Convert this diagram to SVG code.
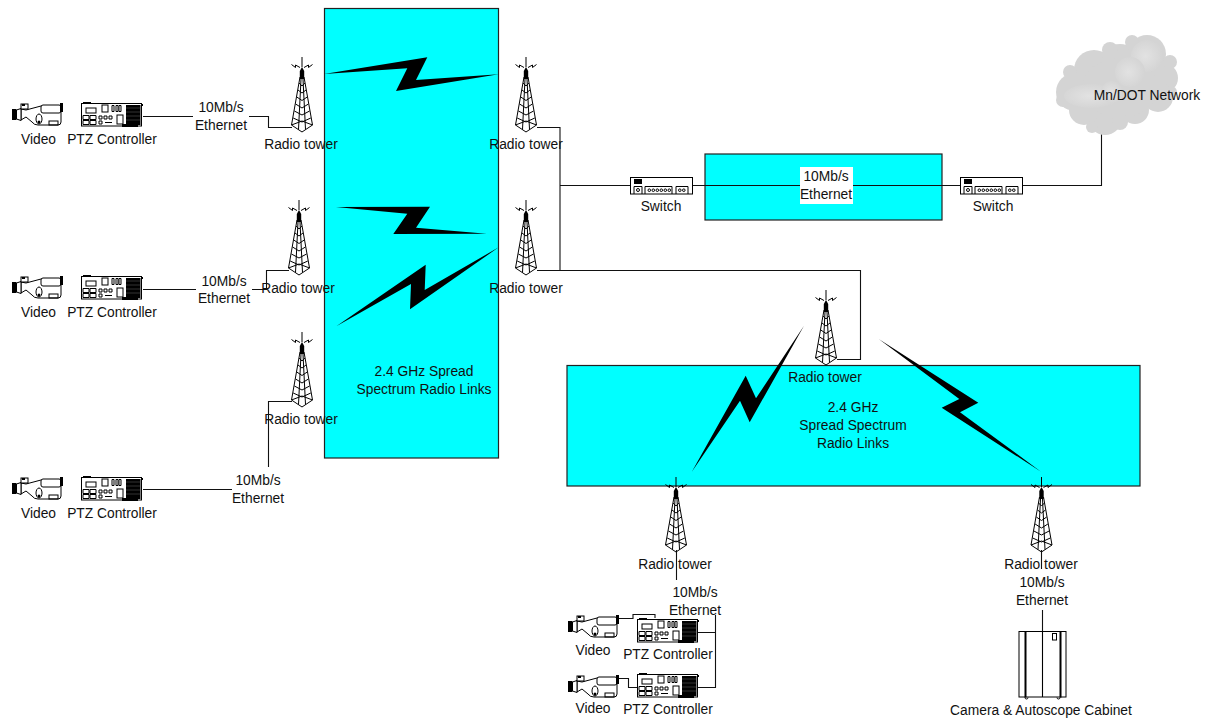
<svg xmlns="http://www.w3.org/2000/svg" xmlns:xlink="http://www.w3.org/1999/xlink" width="1209" height="719" viewBox="0 0 1209 719">
<style>
text{font-family:"Liberation Sans",Arial,sans-serif;font-size:13.8px;fill:#111;text-anchor:middle}
.zone{fill:#00ffff;stroke:#222;stroke-width:1.2}
.ln{fill:none;stroke:#111;stroke-width:1.1}
.bolt{fill:#000}
.d{fill:none;stroke:#000;stroke-width:1}
.dw{fill:#fff;stroke:#000;stroke-width:1}
.k{fill:#000}
</style>
<defs>
<radialGradient id="cg" cx="0.45" cy="0.5" r="0.7"><stop offset="0" stop-color="#e2e2e2"/><stop offset="1" stop-color="#d0d0d0"/></radialGradient>
<g id="tower">
<path class="d" stroke-width="1.300" d="M0,0V10M-10.500,7.500L-6.500,10.500V8L-2,10.500M10.500,7.500L6.500,10.500V8L2,10.500"/>
<path class="k" d="M0,10L2.200,14V22H-2.200V14Z"/>
<path class="d" stroke-width="1.200" stroke-linejoin="round" d="M-2,20L-10.500,68L0,75L10.500,68L2,20M-1,22L-3.500,72.500M1,22L3.500,72.500M-2.900,26L0,29L2.900,26M-4,33L0,36L4,33M-5.200,40L0,43.500L5.200,40M-6.400,47L0,51L6.400,47M-7.600,54L0,58L7.600,54M-8.800,61L0,65L8.800,61M-10.500,68L0,64L10.500,68"/>
</g>
<g id="camera">
<path class="dw" d="M9,6L14,7L29,3H49V19Q49,22 46,22H26Q22,22 20,19L14,14L9,17Z"/>
<rect class="k" x="0" y="6" width="4.500" height="11"/>
<path class="dw" d="M4.500,7L9,5.500V17.500L4.500,16Z"/>
<rect class="dw" x="29" y="2" width="20" height="8" rx="2"/>
<rect class="k" x="48" y="0" width="3" height="9"/>
<rect class="dw" x="9" y="1" width="7" height="5"/>
<path class="k" d="M10,1h3v2h-3z"/>
<ellipse class="d" cx="27" cy="16" rx="3" ry="5"/>
<circle class="k" cx="27" cy="19" r="1.500"/>
<rect class="d" x="37" y="18" width="9" height="4"/>
</g>
<g id="ptz">
<rect class="dw" x="0.500" y="1.500" width="60" height="22.500"/>
<rect class="k" x="2" y="0" width="8" height="2"/>
<rect class="d" x="5" y="6" width="10" height="5"/>
<rect class="d" x="21" y="3" width="6" height="7"/>
<path class="d" d="M31,3.500v6h2v-6zM35,3.500v6h2v-6zM38,3.500v6h2v-6z"/>
<path class="d" d="M2,13.500h6v4h-6zM9,13.500h6v4h-6zM2,18.500h6v4h-6zM9,18.500h6v4h-6z"/>
<path class="d" d="M18,14h3v3h-3zM23,14h3v3h-3zM28,14h3v3h-3zM18,19h3v3h-3zM24,20.500h7"/>
<rect class="d" x="36" y="13" width="6" height="9"/>
<rect class="k" x="45" y="3" width="14.500" height="20"/>
<path d="M45,6h14M45,10h14M45,14h14M45,18h14" stroke="#666" stroke-width="0.500"/>
<rect class="k" x="41" y="22" width="16" height="3"/>
<rect class="k" x="60" y="2" width="2" height="2"/>
</g>
<g id="switch">
<rect class="dw" x="0.500" y="0.500" width="62" height="16.500"/>
<rect class="k" x="4" y="2" width="8" height="5"/>
<path class="d" d="M4,17V9.500H12V17M15,17V9.500H42V17M46,17V9.500H58V17"/>
<path class="d" stroke-width="0.800" d="M6.500,13a1.500,1.500 0 1 0 3,0a1.500,1.500 0 1 0 -3,0M18,13.200a1.300,1.300 0 1 0 2.600,0a1.300,1.300 0 1 0 -2.600,0M22,13.200a1.300,1.300 0 1 0 2.600,0a1.300,1.300 0 1 0 -2.600,0M26,13.200a1.300,1.300 0 1 0 2.600,0a1.300,1.300 0 1 0 -2.600,0M30,13.200a1.300,1.300 0 1 0 2.600,0a1.300,1.300 0 1 0 -2.600,0M34,13.200a1.300,1.300 0 1 0 2.600,0a1.300,1.300 0 1 0 -2.600,0M38,13.200a1.300,1.300 0 1 0 2.600,0a1.300,1.300 0 1 0 -2.600,0M48.500,13.200a1.300,1.300 0 1 0 2.600,0a1.300,1.300 0 1 0 -2.600,0M52.500,13.200a1.300,1.300 0 1 0 2.600,0a1.300,1.300 0 1 0 -2.600,0"/>
</g>
</defs>

<g id="zones">
<rect class="zone" x="324.500" y="8.500" width="174" height="449.500"/>
<rect class="zone" x="705" y="154" width="237" height="66"/>
<rect class="zone" x="567" y="365.500" width="573" height="120.500"/>
</g>

<g id="connectors">
<path class="ln" d="M143,116.500H193M249,116.500H268.500V127.500H292"/>
<path class="ln" d="M143,289.500H196M252,289.500H266.500V270.500H289"/>
<path class="ln" d="M143,489.500H232M268.500,467V401.500H292"/>
<path class="ln" d="M537,127.500H560V270M537,270.500H860.500V359.500H837"/>
<path class="ln" d="M560,185.500H630M692,185.500H960M1023,185.500H1101.500V134"/>
<path class="ln" d="M676.500,550V580"/>
<path class="ln" d="M715.500,615V687.500H698M698,632.500H715.500"/>
<path class="ln" d="M619,618.500H633V614.500H655V618M619,678.500H628.500V687.500H637"/>
<path class="ln" d="M1041.500,550V569M1042.500,610V697"/>
</g>

<g id="links">
<polygon class="bolt" points="324,74 427.300,57.300 416,80 498.700,74.300 396,91 407.300,68.300"/>
<polygon class="bolt" points="336,207 430,206.700 416,227.700 486.700,233.700 393.300,234 407.300,213.700"/>
<polygon class="bolt" points="336.300,326.300 425.700,264.700 424.700,290 498.700,247.300 410,309.300 411,284"/>
<polygon class="bolt" points="691.700,472 745.700,375.700 756,398.300 804,325.700 749.700,422.300 740,400.700"/>
<polygon class="bolt" points="878.700,339 978.300,402.700 960,412.300 1041,471.700 941.700,407.700 959.300,399"/>
</g>

<g id="zone-labels">
<text x="424" y="376">2.4 GHz Spread</text>
<text x="424" y="394">Spectrum Radio Links</text>
<text x="853" y="412">2.4 GHz</text>
<text x="853" y="430">Spread Spectrum</text>
<text x="853" y="448">Radio Links</text>
</g>

<g id="camera-1"><use href="#camera" x="12" y="103"/><text x="38.500" y="144">Video</text></g>
<g id="ptz-1"><use href="#ptz" x="81" y="102"/><text x="112" y="144">PTZ Controller</text></g>
<g id="eth-1"><text x="221" y="112">10Mb/s</text><text x="221" y="130">Ethernet</text></g>
<g id="tower-1"><use href="#tower" x="302" y="57"/><text x="301" y="149">Radio tower</text></g>

<g id="camera-2"><use href="#camera" x="12" y="276"/><text x="38.500" y="317">Video</text></g>
<g id="ptz-2"><use href="#ptz" x="81" y="275"/><text x="112" y="317">PTZ Controller</text></g>
<g id="eth-2"><text x="224" y="286">10Mb/s</text><text x="224" y="303">Ethernet</text></g>
<g id="tower-2"><use href="#tower" x="299" y="200"/><text x="298" y="293">Radio tower</text></g>

<g id="camera-3"><use href="#camera" x="12" y="477"/><text x="38.500" y="518">Video</text></g>
<g id="ptz-3"><use href="#ptz" x="81" y="476"/><text x="112" y="518">PTZ Controller</text></g>
<g id="eth-3"><text x="258" y="485">10Mb/s</text><text x="258" y="503">Ethernet</text></g>
<g id="tower-3"><use href="#tower" x="302" y="332"/><text x="301" y="424">Radio tower</text></g>

<g id="tower-4"><use href="#tower" x="526" y="57"/><text x="526" y="149">Radio tower</text></g>
<g id="tower-5"><use href="#tower" x="526" y="200"/><text x="526" y="293">Radio tower</text></g>

<g id="switch-1"><use href="#switch" x="630" y="177"/><text x="661" y="211">Switch</text></g>
<g id="eth-4"><rect x="800" y="167" width="53" height="37" fill="#fff"/><text x="826" y="181">10Mb/s</text><text x="826" y="199">Ethernet</text></g>
<g id="switch-2"><use href="#switch" x="960" y="177"/><text x="993" y="211">Switch</text></g>

<g id="cloud">
<g fill="#d4d4d4">
<circle cx="1075" cy="92" r="19"/><circle cx="1094" cy="70" r="20"/><circle cx="1120" cy="62" r="18"/><circle cx="1147" cy="54" r="19"/><circle cx="1163" cy="78" r="15"/><circle cx="1158" cy="97" r="15"/><circle cx="1135" cy="110" r="14"/><circle cx="1105" cy="118" r="17"/><circle cx="1084" cy="110" r="15"/><ellipse cx="1120" cy="88" rx="38" ry="30"/>
<circle cx="1063" cy="100" r="7"/><circle cx="1070" cy="72" r="7"/><circle cx="1110" cy="50" r="8"/><circle cx="1132" cy="42" r="7"/><circle cx="1170" cy="62" r="7"/><circle cx="1171" cy="92" r="6"/><circle cx="1120" cy="122" r="8"/><circle cx="1092" cy="127" r="6"/>
</g>
<g fill="url(#cg)">
<circle cx="1147" cy="56" r="16"/><circle cx="1130" cy="72" r="15"/>
<ellipse cx="1092" cy="96" rx="28" ry="12"/><circle cx="1112" cy="92" r="11"/>
</g>
<text x="1147" y="100">Mn/DOT Network</text>
</g>

<g id="tower-6"><use href="#tower" x="826" y="290"/><text x="825" y="382">Radio tower</text></g>
<g id="tower-7"><use href="#tower" x="676" y="477"/><text x="675" y="569">Radio tower</text></g>
<g id="tower-8"><use href="#tower" x="1041.500" y="477"/><text x="1041" y="569">Radio tower</text></g>

<g id="eth-5"><text x="695" y="597">10Mb/s</text><text x="695" y="615">Ethernet</text></g>
<g id="camera-4"><use href="#camera" x="568" y="615"/><text x="593" y="655">Video</text></g>
<g id="ptz-4"><use href="#ptz" x="637" y="618"/><text x="668" y="659">PTZ Controller</text></g>
<g id="camera-5"><use href="#camera" x="568" y="675"/><text x="593" y="713">Video</text></g>
<g id="ptz-5"><use href="#ptz" x="637" y="673"/><text x="668" y="714">PTZ Controller</text></g>

<g id="eth-6"><text x="1042" y="587">10Mb/s</text><text x="1042" y="605">Ethernet</text></g>
<g id="cabinet">
<rect class="d" x="1019" y="631.500" width="47" height="65.500"/>
<rect class="k" x="1024.500" y="631.500" width="2" height="66"/>
<rect class="k" x="1059.500" y="631.500" width="2" height="66"/>
<rect class="d" x="1052.500" y="633.500" width="4" height="6.500"/>
<path class="d" d="M1042.500,631V697M1025,697.500a1.500,1.500 0 0 0 3,0M1057,697.500a1.500,1.500 0 0 0 3,0"/>
<text x="1041" y="715">Camera &amp; Autoscope Cabinet</text>
</g>
</svg>
